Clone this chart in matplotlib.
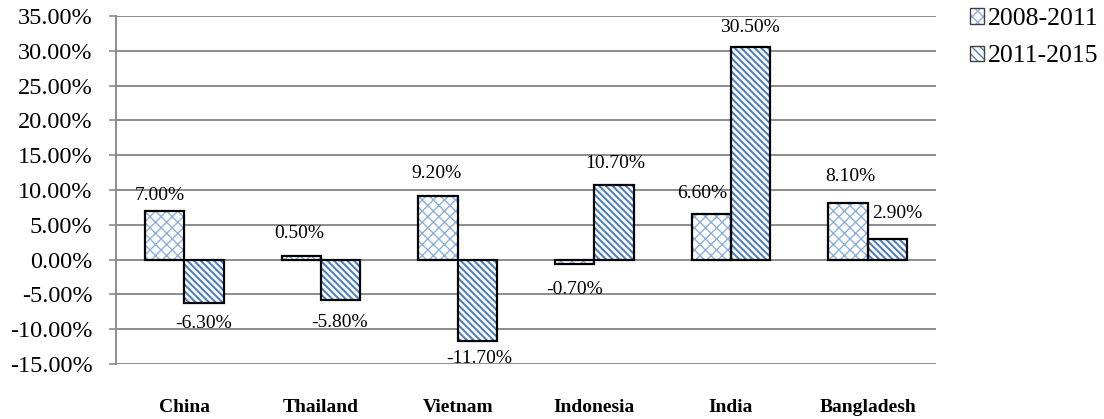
import numpy as np
import matplotlib
matplotlib.use("Agg")
import matplotlib.pyplot as plt
from matplotlib.patches import Patch
from matplotlib.legend_handler import HandlerTuple
from matplotlib.ticker import FuncFormatter

countries = ["China", "Thailand", "Vietnam", "Indonesia", "India", "Bangladesh"]
series_names = ["2008-2011", "2011-2015"]
growth_2008_2011 = [7.0, 0.5, 9.2, -0.7, 6.6, 8.1]
growth_2011_2015 = [-6.3, -5.8, -11.7, 10.7, 30.5, 2.9]

# label nudges in pixels (dx, dy), hand-placed like the original
offsets_1 = [(-5, 15), (-2, 23), (-1, 22), (0, -25), (-9, 20), (2, 27)]
offsets_2 = [(0, -20), (-1, -23), (2, -17), (1, 22), (-1, 20), (10, 26)]

plt.rcParams["font.family"] = ["Liberation Serif", "DejaVu Serif"]

blue = "#4f81bd"
light_blue = "#8eb0dc"
grid_grey = "#8c8c8c"

fig = plt.figure(figsize=(11.04, 4.19), dpi=100)
ax = fig.add_axes([116 / 1104, 1 - 364 / 419, 820 / 1104, 348 / 419])

x = np.arange(len(countries))
w = 0.289
series = [growth_2008_2011, growth_2011_2015]
hatches = ["xxx", "\\\\\\\\\\"]
hatch_colors = [light_blue, blue]
hatch_widths = [1.0, 1.5]
all_offsets = [offsets_1, offsets_2]
handles = []

for i, vals in enumerate(series):
    pos = x + (i - 0.5) * w
    with plt.rc_context({"hatch.linewidth": hatch_widths[i]}):
        ax.bar(pos, vals, w, facecolor="white", edgecolor=hatch_colors[i],
               hatch=hatches[i], linewidth=0, zorder=2)
        handles.append((Patch(facecolor="white", edgecolor=hatch_colors[i],
                              hatch=hatches[i][:4], linewidth=0),
                        Patch(fill=False, edgecolor="#404040", linewidth=1.0)))
    ax.bar(pos, vals, w, fill=False, edgecolor="black", linewidth=1.6, zorder=3)
    for p, v, (dx, dy) in zip(pos, vals, all_offsets[i]):
        ax.annotate(f"{v:.2f}%", (p, v), xytext=(dx, dy), textcoords="offset pixels",
                    ha="center", va="center", fontsize=14)

ax.set_xlim(-0.5, len(countries) - 0.5)
ax.set_ylim(-15, 35)
ax.set_yticks(np.arange(-15, 36, 5))
ax.yaxis.set_major_formatter(FuncFormatter(lambda v, _: f"{v:.2f}%"))
ax.set_xticks(x)
ax.set_xticklabels(countries, fontweight="bold", fontsize=14)
ax.tick_params(axis="x", length=0, pad=25)
ax.tick_params(axis="y", labelsize=17.5, length=5, width=1.2, color=grid_grey, pad=12)

ax.grid(axis="y", color=grid_grey, linewidth=1.4, zorder=0)
ax.set_axisbelow(True)
for s in ["top", "right", "bottom"]:
    ax.spines[s].set_visible(False)
ax.spines["left"].set_color(grid_grey)
ax.spines["left"].set_linewidth(1.4)

fig.legend(handles, series_names, handler_map={tuple: HandlerTuple(ndivide=1)},
           loc="upper left", bbox_to_anchor=(970 / 1104, 1 - 8 / 419),
           frameon=False, fontsize=18.5, handlelength=0.55, handleheight=0.55,
           handletextpad=0.15, labelspacing=0.6, borderpad=0, borderaxespad=0)

fig.savefig("out.png", dpi=100)
